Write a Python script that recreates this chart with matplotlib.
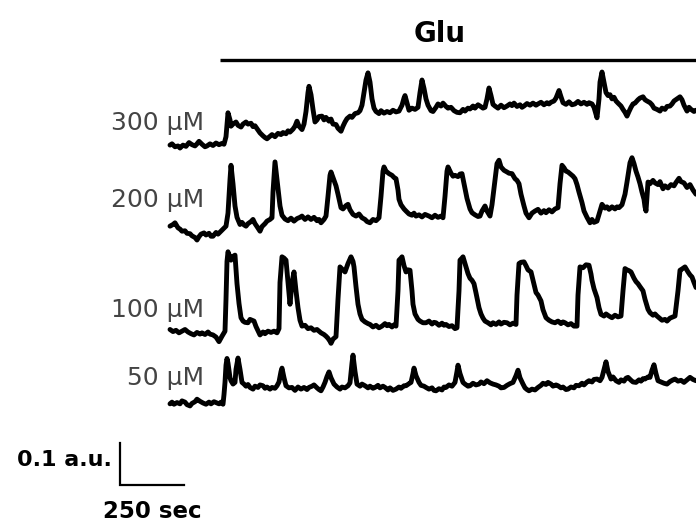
import numpy as np
import matplotlib
matplotlib.use("Agg")
import matplotlib.pyplot as plt

# frame interval of the recording (sec); 64 frames = 250 sec
DT = 250 / 64.0

# Glu application starts (sec)
glu_on = 195

# ---- traces: (frame, signal in a.u. relative to the starting baseline) ----
trace_300 = [
    (0, 0.000), (2, 0.003), (5, -0.004), (8, -0.002), (10, -0.007), (13, 0.000), (16, -0.003),
    (19, 0.006), (22, 0.001), (25, -0.002), (27, 0.003), (29, 0.009), (32, 0.002), (35, -0.004),
    (37, -0.002), (40, 0.003), (43, -0.001), (46, 0.005), (49, 0.001), (52, 0.004), (54, 0.002),
    (56, 0.020), (58, 0.077), (60, 0.060), (61, 0.045), (63, 0.050), (66, 0.055), (68, 0.047),
    (71, 0.043), (73, 0.050), (76, 0.055), (78, 0.050), (81, 0.052), (83, 0.044), (85, 0.046),
    (88, 0.036), (90, 0.029), (93, 0.022), (95, 0.018), (97, 0.015), (100, 0.021), (102, 0.025),
    (105, 0.020), (108, 0.028), (111, 0.025), (113, 0.030), (116, 0.027), (118, 0.034),
    (120, 0.031), (123, 0.038), (125, 0.045), (127, 0.057), (129, 0.045), (132, 0.037),
    (134, 0.050), (136, 0.080), (138, 0.125), (139, 0.140), (141, 0.120), (143, 0.085),
    (145, 0.055), (147, 0.060), (149, 0.068), (152, 0.069), (154, 0.060), (156, 0.066),
    (159, 0.057), (161, 0.062), (163, 0.050), (166, 0.049), (168, 0.040), (171, 0.033),
    (173, 0.045), (175, 0.055), (177, 0.063), (180, 0.069), (182, 0.066), (185, 0.075),
    (188, 0.077), (190, 0.082), (192, 0.095), (194, 0.125), (196, 0.155), (198, 0.172),
    (200, 0.150), (202, 0.110), (204, 0.088), (206, 0.080), (209, 0.075), (211, 0.082),
    (214, 0.076), (217, 0.080), (220, 0.077), (223, 0.083), (226, 0.079), (229, 0.081),
    (232, 0.095), (234, 0.112), (235, 0.118), (237, 0.100), (239, 0.083), (242, 0.088),
    (245, 0.085), (248, 0.090), (250, 0.125), (252, 0.155), (254, 0.135), (256, 0.110),
    (258, 0.095), (261, 0.082), (263, 0.080), (266, 0.090), (268, 0.098), (271, 0.093),
    (273, 0.100), (276, 0.092), (278, 0.088), (281, 0.090), (284, 0.082), (287, 0.078),
    (290, 0.077), (293, 0.085), (295, 0.081), (298, 0.088), (300, 0.086), (303, 0.093),
    (305, 0.088), (308, 0.096), (310, 0.093), (313, 0.088), (315, 0.090), (317, 0.110),
    (319, 0.136), (321, 0.118), (323, 0.097), (325, 0.093), (328, 0.088), (331, 0.095),
    (334, 0.089), (337, 0.093), (340, 0.098), (342, 0.094), (344, 0.100), (347, 0.092),
    (350, 0.096), (352, 0.090), (354, 0.093), (357, 0.099), (360, 0.095), (363, 0.100),
    (366, 0.095), (368, 0.098), (371, 0.102), (374, 0.096), (377, 0.101), (379, 0.098),
    (381, 0.102), (384, 0.105), (386, 0.112), (389, 0.130), (391, 0.115), (393, 0.101),
    (396, 0.097), (399, 0.103), (402, 0.096), (405, 0.098), (408, 0.104), (411, 0.098),
    (414, 0.102), (417, 0.097), (419, 0.101), (422, 0.098), (424, 0.090), (427, 0.065),
    (429, 0.110), (430, 0.150), (432, 0.174), (434, 0.150), (436, 0.125), (438, 0.118),
    (440, 0.120), (442, 0.110), (444, 0.114), (446, 0.105), (448, 0.100), (451, 0.093),
    (453, 0.085), (455, 0.078), (457, 0.069), (459, 0.080), (461, 0.090), (463, 0.098),
    (465, 0.100), (468, 0.108), (470, 0.112), (473, 0.115), (475, 0.108), (477, 0.105),
    (480, 0.101), (482, 0.096), (484, 0.088), (487, 0.085), (490, 0.081), (492, 0.088),
    (495, 0.085), (497, 0.092), (500, 0.093), (502, 0.098), (504, 0.105), (507, 0.110),
    (510, 0.115), (512, 0.108), (514, 0.095), (517, 0.081), (519, 0.090), (521, 0.085),
    (524, 0.080), (526, 0.083),
]

trace_200 = [
    (0, 0.009), (3, 0.013), (5, 0.017), (8, 0.005), (10, 0.002), (12, -0.003), (15, -0.002),
    (17, -0.008), (20, -0.009), (22, -0.014), (25, -0.018), (27, -0.024), (29, -0.016),
    (31, -0.010), (34, -0.007), (36, -0.012), (39, -0.008), (41, -0.015), (43, -0.015),
    (46, -0.006), (48, -0.010), (51, -0.003), (53, 0.002), (56, 0.009), (58, 0.040),
    (60, 0.120), (61, 0.154), (63, 0.110), (65, 0.057), (67, 0.030), (70, 0.013), (72, 0.018),
    (74, 0.012), (76, 0.009), (78, 0.015), (81, 0.020), (83, 0.025), (85, 0.015), (87, 0.008),
    (90, -0.003), (92, 0.008), (95, 0.015), (97, 0.021), (100, 0.025), (102, 0.029),
    (103, 0.090), (105, 0.162), (107, 0.120), (110, 0.057), (112, 0.035), (115, 0.026),
    (118, 0.022), (121, 0.028), (124, 0.021), (127, 0.027), (130, 0.030), (132, 0.033),
    (135, 0.025), (138, 0.031), (141, 0.025), (144, 0.030), (147, 0.022), (149, 0.025),
    (151, 0.017), (154, 0.025), (156, 0.033), (158, 0.080), (160, 0.130), (161, 0.138),
    (163, 0.125), (166, 0.105), (168, 0.085), (171, 0.053), (173, 0.050), (176, 0.058),
    (178, 0.061), (180, 0.048), (183, 0.037), (186, 0.033), (189, 0.038), (192, 0.029),
    (195, 0.025), (197, 0.020), (200, 0.017), (203, 0.025), (206, 0.022), (209, 0.029),
    (211, 0.080), (213, 0.140), (214, 0.150), (216, 0.140), (219, 0.134), (222, 0.130),
    (224, 0.125), (226, 0.122), (228, 0.095), (229, 0.073), (231, 0.060), (234, 0.050),
    (236, 0.045), (239, 0.038), (242, 0.035), (244, 0.040), (246, 0.033), (249, 0.036),
    (252, 0.031), (255, 0.037), (259, 0.033), (262, 0.029), (265, 0.035), (268, 0.030),
    (271, 0.033), (273, 0.029), (275, 0.080), (277, 0.140), (278, 0.150), (281, 0.135),
    (283, 0.128), (285, 0.130), (288, 0.127), (290, 0.133), (292, 0.134), (294, 0.110),
    (295, 0.098), (297, 0.075), (300, 0.050), (302, 0.041), (305, 0.036), (308, 0.032),
    (310, 0.033), (312, 0.045), (315, 0.057), (317, 0.045), (320, 0.033), (322, 0.060),
    (325, 0.120), (327, 0.158), (329, 0.166), (331, 0.150), (334, 0.142), (337, 0.138),
    (339, 0.135), (342, 0.134), (345, 0.122), (347, 0.118), (349, 0.110), (351, 0.085),
    (354, 0.057), (356, 0.040), (359, 0.029), (362, 0.040), (365, 0.045), (368, 0.049),
    (371, 0.040), (374, 0.046), (376, 0.041), (379, 0.048), (382, 0.043), (385, 0.050),
    (388, 0.053), (390, 0.110), (392, 0.154), (394, 0.148), (396, 0.140), (398, 0.138),
    (401, 0.132), (403, 0.128), (405, 0.122), (407, 0.108), (409, 0.090), (412, 0.065),
    (414, 0.045), (417, 0.030), (420, 0.017), (422, 0.025), (424, 0.018), (427, 0.021),
    (430, 0.045), (432, 0.061), (435, 0.052), (437, 0.055), (439, 0.049), (442, 0.055),
    (445, 0.050), (447, 0.055), (449, 0.053), (452, 0.060), (455, 0.085), (457, 0.114),
    (460, 0.160), (462, 0.172), (464, 0.158), (466, 0.140), (468, 0.126), (470, 0.110),
    (472, 0.090), (474, 0.073), (475, 0.055), (476, 0.045), (477, 0.080), (478, 0.114),
    (480, 0.110), (483, 0.118), (485, 0.112), (488, 0.108), (490, 0.115), (493, 0.098),
    (495, 0.105), (498, 0.100), (501, 0.108), (504, 0.105), (506, 0.113), (509, 0.123),
    (511, 0.115), (514, 0.112), (517, 0.101), (520, 0.108), (523, 0.095), (526, 0.085),
]

trace_100 = [
    (0, 0.008), (3, 0.003), (6, 0.006), (9, 0.000), (12, 0.004), (15, 0.008), (18, 0.002),
    (21, -0.002), (24, -0.005), (27, 0.001), (30, -0.003), (32, 0.000), (35, -0.004),
    (38, 0.002), (40, -0.003), (43, -0.005), (46, -0.010), (49, -0.021), (52, -0.008),
    (55, 0.004), (56, 0.080), (57, 0.170), (58, 0.193), (60, 0.180), (61, 0.173), (63, 0.182),
    (65, 0.185), (66, 0.150), (67, 0.117), (69, 0.070), (71, 0.036), (73, 0.028), (75, 0.025),
    (78, 0.024), (80, 0.032), (82, 0.030), (84, 0.028), (86, 0.015), (88, 0.005), (90, -0.005),
    (93, 0.002), (95, -0.002), (98, 0.004), (101, 0.001), (104, 0.004), (107, 0.000),
    (109, 0.010), (110, 0.120), (112, 0.181), (114, 0.178), (116, 0.173), (118, 0.120),
    (120, 0.068), (122, 0.120), (124, 0.145), (126, 0.100), (128, 0.060), (130, 0.030),
    (132, 0.016), (135, 0.018), (138, 0.010), (141, 0.012), (144, 0.006), (147, 0.008),
    (151, 0.000), (154, -0.004), (156, -0.008), (158, -0.013), (160, -0.020), (161, -0.025),
    (163, -0.015), (166, -0.009), (168, 0.080), (170, 0.157), (173, 0.150), (175, 0.145),
    (178, 0.165), (181, 0.181), (183, 0.170), (184, 0.157), (186, 0.110), (188, 0.068),
    (190, 0.045), (192, 0.032), (195, 0.026), (198, 0.022), (200, 0.020), (203, 0.014),
    (206, 0.018), (209, 0.012), (212, 0.016), (215, 0.022), (217, 0.017), (219, 0.020),
    (222, 0.014), (224, 0.019), (226, 0.016), (228, 0.100), (229, 0.173), (231, 0.178),
    (232, 0.181), (234, 0.160), (236, 0.145), (238, 0.150), (240, 0.149), (242, 0.100),
    (243, 0.068), (245, 0.045), (248, 0.032), (250, 0.028), (253, 0.024), (256, 0.024),
    (259, 0.028), (262, 0.021), (264, 0.025), (266, 0.024), (269, 0.018), (272, 0.023),
    (274, 0.018), (276, 0.020), (279, 0.015), (282, 0.017), (285, 0.010), (287, 0.012),
    (289, 0.100), (290, 0.173), (292, 0.178), (293, 0.181), (295, 0.165), (298, 0.141),
    (300, 0.130), (302, 0.125), (304, 0.117), (306, 0.095), (309, 0.060), (311, 0.045),
    (313, 0.035), (315, 0.028), (318, 0.024), (321, 0.019), (323, 0.024), (326, 0.020),
    (329, 0.026), (331, 0.021), (334, 0.025), (337, 0.024), (340, 0.019), (343, 0.023),
    (346, 0.020), (347, 0.090), (349, 0.165), (351, 0.168), (354, 0.169), (356, 0.160),
    (358, 0.150), (361, 0.145), (363, 0.125), (366, 0.096), (368, 0.090), (371, 0.076),
    (373, 0.055), (376, 0.036), (379, 0.030), (382, 0.026), (385, 0.024), (388, 0.028),
    (391, 0.022), (393, 0.026), (395, 0.024), (398, 0.019), (401, 0.022), (404, 0.016),
    (407, 0.016), (408, 0.090), (410, 0.157), (413, 0.155), (416, 0.162), (419, 0.161),
    (421, 0.140), (422, 0.125), (424, 0.105), (427, 0.084), (429, 0.060), (431, 0.044),
    (434, 0.040), (436, 0.045), (439, 0.040), (442, 0.036), (445, 0.042), (448, 0.038),
    (451, 0.040), (453, 0.100), (455, 0.153), (457, 0.150), (459, 0.148), (461, 0.145),
    (464, 0.130), (466, 0.122), (468, 0.117), (470, 0.110), (473, 0.100), (475, 0.080),
    (478, 0.056), (480, 0.048), (483, 0.042), (485, 0.045), (487, 0.040), (490, 0.034),
    (492, 0.030), (495, 0.032), (497, 0.028), (500, 0.035), (503, 0.038), (505, 0.040),
    (508, 0.100), (510, 0.149), (512, 0.152), (515, 0.157), (518, 0.145), (520, 0.138),
    (522, 0.133), (524, 0.120), (526, 0.108),
]

trace_50 = [
    (0, -0.002), (2, 0.002), (4, -0.003), (7, 0.001), (10, -0.002), (12, 0.005), (15, 0.002),
    (17, -0.004), (20, -0.007), (22, -0.001), (25, 0.003), (27, 0.009), (30, 0.004),
    (33, 0.000), (36, -0.003), (39, 0.002), (41, -0.002), (44, 0.003), (46, 0.001),
    (49, -0.002), (51, 0.002), (53, -0.003), (54, 0.020), (55, 0.049), (56, 0.090),
    (57, 0.106), (58, 0.095), (60, 0.060), (61, 0.053), (63, 0.045), (65, 0.049), (66, 0.080),
    (68, 0.107), (70, 0.080), (72, 0.049), (74, 0.045), (76, 0.040), (78, 0.044), (80, 0.037),
    (83, 0.033), (85, 0.040), (88, 0.037), (90, 0.043), (93, 0.041), (95, 0.035), (97, 0.038),
    (100, 0.033), (102, 0.037), (105, 0.035), (107, 0.041), (109, 0.050), (111, 0.075),
    (112, 0.083), (114, 0.060), (116, 0.041), (119, 0.036), (122, 0.037), (125, 0.030),
    (128, 0.038), (131, 0.033), (134, 0.037), (137, 0.032), (139, 0.037), (142, 0.040),
    (144, 0.043), (147, 0.036), (149, 0.032), (151, 0.029), (153, 0.038), (155, 0.049),
    (157, 0.063), (159, 0.074), (161, 0.060), (164, 0.045), (167, 0.038), (170, 0.033),
    (172, 0.038), (175, 0.036), (178, 0.041), (180, 0.048), (182, 0.095), (183, 0.114),
    (185, 0.075), (187, 0.045), (190, 0.040), (192, 0.045), (195, 0.041), (198, 0.036),
    (200, 0.040), (203, 0.035), (205, 0.037), (208, 0.042), (210, 0.036), (213, 0.040),
    (215, 0.037), (218, 0.031), (220, 0.036), (223, 0.030), (226, 0.033), (229, 0.038),
    (231, 0.035), (234, 0.041), (236, 0.041), (239, 0.046), (241, 0.049), (243, 0.070),
    (244, 0.083), (246, 0.065), (249, 0.049), (251, 0.042), (254, 0.040), (256, 0.037),
    (259, 0.033), (262, 0.036), (264, 0.030), (266, 0.029), (269, 0.034), (272, 0.031),
    (274, 0.038), (276, 0.037), (279, 0.043), (282, 0.040), (285, 0.049), (287, 0.075),
    (288, 0.090), (290, 0.070), (293, 0.049), (295, 0.045), (298, 0.040), (300, 0.041),
    (303, 0.047), (306, 0.043), (309, 0.045), (311, 0.050), (314, 0.046), (317, 0.053),
    (320, 0.048), (323, 0.045), (326, 0.043), (329, 0.040), (331, 0.036), (334, 0.037),
    (337, 0.042), (340, 0.046), (343, 0.049), (346, 0.065), (348, 0.078), (350, 0.060),
    (353, 0.045), (355, 0.036), (357, 0.032), (359, 0.029), (362, 0.033), (365, 0.031),
    (368, 0.037), (371, 0.042), (373, 0.047), (376, 0.044), (378, 0.049), (381, 0.045),
    (383, 0.040), (386, 0.043), (388, 0.041), (391, 0.036), (393, 0.038), (396, 0.032),
    (398, 0.033), (401, 0.038), (404, 0.036), (406, 0.042), (409, 0.041), (412, 0.047),
    (414, 0.043), (417, 0.050), (419, 0.053), (422, 0.050), (424, 0.056), (427, 0.057),
    (430, 0.053), (432, 0.061), (434, 0.080), (436, 0.098), (438, 0.075), (441, 0.057),
    (443, 0.062), (446, 0.053), (449, 0.049), (451, 0.055), (454, 0.052), (456, 0.059),
    (458, 0.061), (461, 0.054), (463, 0.050), (466, 0.049), (469, 0.055), (471, 0.052),
    (473, 0.058), (475, 0.057), (478, 0.062), (480, 0.061), (482, 0.078), (484, 0.091),
    (486, 0.070), (488, 0.053), (491, 0.050), (494, 0.047), (497, 0.045), (500, 0.051),
    (503, 0.055), (505, 0.057), (508, 0.052), (511, 0.054), (514, 0.049), (517, 0.055),
    (520, 0.061), (523, 0.056), (526, 0.053),
]

labels = ["300 \u00b5M", "200 \u00b5M", "100 \u00b5M", "50 \u00b5M"]
traces = [trace_300, trace_200, trace_100, trace_50]

# vertical stacking of the traces (a.u.)
offsets = [0.845, 0.643, 0.398, 0.231]
label_lift = [0.053, 0.071, 0.054, 0.059]

fig = plt.figure(figsize=(6.96, 5.26), dpi=100)
ax = fig.add_axes([0, 0, 1, 1])
ax.set_xlim(-170 * DT, 526 * DT)
ax.set_ylim(-26 / 420.0, 500 / 420.0)
ax.axis("off")

for lab, tr, off, lift in zip(labels, traces, offsets, label_lift):
    data = np.array(tr)
    t = data[:, 0] * DT
    ax.plot(t, data[:, 1] + off, color="black", lw=3.5,
            solid_joinstyle="round", solid_capstyle="round")
    ax.text(34 * DT, off + lift, lab, ha="right", va="center",
            fontsize=18, color="#444444", family="DejaVu Sans")

# Glu application bar
ax.plot([glu_on, 526 * DT], [1.047, 1.047], color="black", lw=2.4, solid_capstyle="butt")
ax.text(270 * DT, 1.109, "Glu", ha="center", va="center",
        fontsize=20, fontweight="bold", family="DejaVu Sans")

# scale bar: 0.1 a.u. / 250 sec
x0 = -50 * DT
y0 = 15 / 420.0
ax.plot([x0, x0, x0 + 250], [y0 + 0.1, y0, y0], color="black", lw=1.6,
        solid_joinstyle="miter")
ax.text(x0 - 8 * DT, y0 + 0.06, "0.1 a.u.", ha="right", va="center",
        fontsize=16, fontweight="bold", family="DejaVu Sans")
ax.text(x0 + 128, y0 - 0.062, "250 sec", ha="center", va="center",
        fontsize=16.5, fontweight="bold", family="DejaVu Sans")

fig.savefig("out.png", dpi=100)
